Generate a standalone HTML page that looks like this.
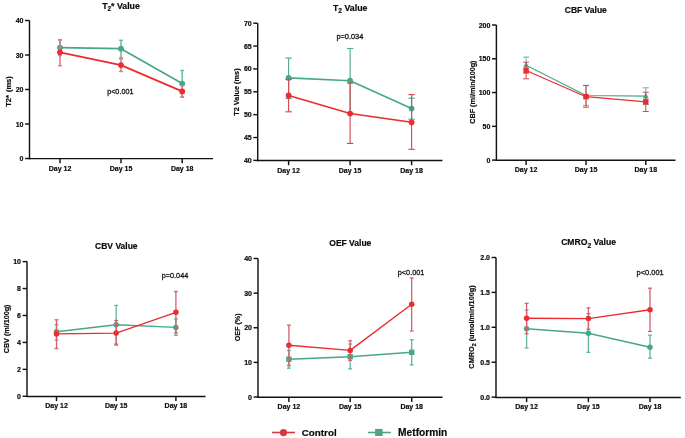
<!DOCTYPE html>
<html><head><meta charset="utf-8"><style>
html,body{margin:0;padding:0;background:#fff;}
body{width:685px;height:438px;overflow:hidden;}
svg{display:block;will-change:transform;}
text{font-family:'Liberation Sans', sans-serif;fill:#0a0a0a;stroke:#0a0a0a;stroke-width:0.18px;}
.pv{stroke-width:0.26px;}
</style></head><body>
<svg width="685" height="438" viewBox="0 0 685 438">
<rect width="685" height="438" fill="#fff"/>
<line x1="29.5" y1="20.5" x2="29.5" y2="159.32" stroke="#121212" stroke-width="1.45"/>
<line x1="28.77" y1="158.6" x2="213" y2="158.6" stroke="#121212" stroke-width="1.45"/>
<line x1="25.1" y1="158.5" x2="29.5" y2="158.5" stroke="#121212" stroke-width="1.45"/>
<text x="23.5" y="161.05" font-size="7.0" font-weight="bold" text-anchor="end">0</text>
<line x1="25.1" y1="124" x2="29.5" y2="124" stroke="#121212" stroke-width="1.45"/>
<text x="23.5" y="126.55" font-size="7.0" font-weight="bold" text-anchor="end">10</text>
<line x1="25.1" y1="89.5" x2="29.5" y2="89.5" stroke="#121212" stroke-width="1.45"/>
<text x="23.5" y="92.05" font-size="7.0" font-weight="bold" text-anchor="end">20</text>
<line x1="25.1" y1="55" x2="29.5" y2="55" stroke="#121212" stroke-width="1.45"/>
<text x="23.5" y="57.55" font-size="7.0" font-weight="bold" text-anchor="end">30</text>
<line x1="25.1" y1="20.5" x2="29.5" y2="20.5" stroke="#121212" stroke-width="1.45"/>
<text x="23.5" y="23.05" font-size="7.0" font-weight="bold" text-anchor="end">40</text>
<line x1="60" y1="158.6" x2="60" y2="163.3" stroke="#121212" stroke-width="1.45"/>
<text x="60" y="170.6" font-size="7.0" font-weight="bold" text-anchor="middle">Day 12</text>
<line x1="121" y1="158.6" x2="121" y2="163.3" stroke="#121212" stroke-width="1.45"/>
<text x="121" y="170.6" font-size="7.0" font-weight="bold" text-anchor="middle">Day 15</text>
<line x1="182.2" y1="158.6" x2="182.2" y2="163.3" stroke="#121212" stroke-width="1.45"/>
<text x="182.2" y="170.6" font-size="7.0" font-weight="bold" text-anchor="middle">Day 18</text>
<text x="121" y="8.5" font-size="8.75" font-weight="bold" text-anchor="middle">T<tspan font-size="6.4" dy="2.4">2</tspan><tspan dy="-2.4">* Value</tspan></text>
<text transform="translate(10.8,91.5) rotate(-90)" x="0" y="0" font-size="7.5" font-weight="bold" text-anchor="middle">T2*<tspan dx="3">(ms)</tspan></text>
<text class="pv" x="120.3" y="93.8" font-size="7.7" text-anchor="middle" textLength="26.3" lengthAdjust="spacingAndGlyphs">p&lt;0.001</text>
<line x1="60" y1="39.85" x2="60" y2="55.6" stroke="#6dbb9c" stroke-width="1.5"/>
<line x1="58.1" y1="39.85" x2="61.9" y2="39.85" stroke="#6dbb9c" stroke-width="1.5"/>
<line x1="58.1" y1="55.6" x2="61.9" y2="55.6" stroke="#6dbb9c" stroke-width="1.5"/>
<line x1="121" y1="40.3" x2="121" y2="57.6" stroke="#6dbb9c" stroke-width="1.5"/>
<line x1="119.1" y1="40.3" x2="122.9" y2="40.3" stroke="#6dbb9c" stroke-width="1.5"/>
<line x1="119.1" y1="57.6" x2="122.9" y2="57.6" stroke="#6dbb9c" stroke-width="1.5"/>
<line x1="182.2" y1="70.5" x2="182.2" y2="96.9" stroke="#6dbb9c" stroke-width="1.5"/>
<line x1="180.3" y1="70.5" x2="184.1" y2="70.5" stroke="#6dbb9c" stroke-width="1.5"/>
<line x1="180.3" y1="96.9" x2="184.1" y2="96.9" stroke="#6dbb9c" stroke-width="1.5"/>
<path d="M60,47.6 L121,48.7 L182.2,83.6" fill="none" stroke="#47a884" stroke-width="1.7" stroke-linejoin="round"/>
<circle cx="60" cy="47.6" r="2.9" fill="#47a884"/>
<circle cx="121" cy="48.7" r="2.9" fill="#47a884"/>
<circle cx="182.2" cy="83.6" r="2.9" fill="#47a884"/>
<line x1="60" y1="39.7" x2="60" y2="65.7" stroke="#dc7884" stroke-width="1.5"/>
<line x1="58.1" y1="39.7" x2="61.9" y2="39.7" stroke="#dc7884" stroke-width="1.5"/>
<line x1="58.1" y1="65.7" x2="61.9" y2="65.7" stroke="#dc7884" stroke-width="1.5"/>
<line x1="121" y1="58.8" x2="121" y2="71.5" stroke="#dc7884" stroke-width="1.5"/>
<line x1="119.1" y1="58.8" x2="122.9" y2="58.8" stroke="#dc7884" stroke-width="1.5"/>
<line x1="119.1" y1="71.5" x2="122.9" y2="71.5" stroke="#dc7884" stroke-width="1.5"/>
<line x1="182.2" y1="85.5" x2="182.2" y2="97.3" stroke="#dc7884" stroke-width="1.5"/>
<line x1="180.3" y1="85.5" x2="184.1" y2="85.5" stroke="#dc7884" stroke-width="1.5"/>
<line x1="180.3" y1="97.3" x2="184.1" y2="97.3" stroke="#dc7884" stroke-width="1.5"/>
<path d="M60,52.3 L121,65.1 L182.2,91.4" fill="none" stroke="#ec2c2f" stroke-width="1.7" stroke-linejoin="round"/>
<circle cx="60" cy="52.3" r="2.9" fill="#ec2c2f"/>
<circle cx="121" cy="65.1" r="2.9" fill="#ec2c2f"/>
<circle cx="182.2" cy="91.4" r="2.9" fill="#ec2c2f"/>
<line x1="257.7" y1="23.2" x2="257.7" y2="161.22" stroke="#121212" stroke-width="1.45"/>
<line x1="256.97" y1="160.5" x2="442.4" y2="160.5" stroke="#121212" stroke-width="1.45"/>
<line x1="253.3" y1="160.4" x2="257.7" y2="160.4" stroke="#121212" stroke-width="1.45"/>
<text x="251.7" y="162.95" font-size="7.0" font-weight="bold" text-anchor="end">40</text>
<line x1="253.3" y1="137.53" x2="257.7" y2="137.53" stroke="#121212" stroke-width="1.45"/>
<text x="251.7" y="140.09" font-size="7.0" font-weight="bold" text-anchor="end">45</text>
<line x1="253.3" y1="114.67" x2="257.7" y2="114.67" stroke="#121212" stroke-width="1.45"/>
<text x="251.7" y="117.22" font-size="7.0" font-weight="bold" text-anchor="end">50</text>
<line x1="253.3" y1="91.81" x2="257.7" y2="91.81" stroke="#121212" stroke-width="1.45"/>
<text x="251.7" y="94.36" font-size="7.0" font-weight="bold" text-anchor="end">55</text>
<line x1="253.3" y1="68.94" x2="257.7" y2="68.94" stroke="#121212" stroke-width="1.45"/>
<text x="251.7" y="71.49" font-size="7.0" font-weight="bold" text-anchor="end">60</text>
<line x1="253.3" y1="46.07" x2="257.7" y2="46.07" stroke="#121212" stroke-width="1.45"/>
<text x="251.7" y="48.62" font-size="7.0" font-weight="bold" text-anchor="end">65</text>
<line x1="253.3" y1="23.21" x2="257.7" y2="23.21" stroke="#121212" stroke-width="1.45"/>
<text x="251.7" y="25.76" font-size="7.0" font-weight="bold" text-anchor="end">70</text>
<line x1="288.6" y1="160.5" x2="288.6" y2="165.2" stroke="#121212" stroke-width="1.45"/>
<text x="288.6" y="172.5" font-size="7.0" font-weight="bold" text-anchor="middle">Day 12</text>
<line x1="350.1" y1="160.5" x2="350.1" y2="165.2" stroke="#121212" stroke-width="1.45"/>
<text x="350.1" y="172.5" font-size="7.0" font-weight="bold" text-anchor="middle">Day 15</text>
<line x1="411.6" y1="160.5" x2="411.6" y2="165.2" stroke="#121212" stroke-width="1.45"/>
<text x="411.6" y="172.5" font-size="7.0" font-weight="bold" text-anchor="middle">Day 18</text>
<text x="350.2" y="10.75" font-size="8.8" font-weight="bold" text-anchor="middle">T<tspan font-size="6.6" dy="2.7">2</tspan><tspan dy="-2.7"> Value</tspan></text>
<text transform="translate(239.3,92.1) rotate(-90)" x="0" y="0" font-size="7.35" font-weight="bold" text-anchor="middle">T2 Value (ms)</text>
<text class="pv" x="349.9" y="38.9" font-size="7.7" text-anchor="middle" textLength="26.9" lengthAdjust="spacingAndGlyphs">p=0.034</text>
<line x1="288.6" y1="58.1" x2="288.6" y2="98.5" stroke="#52ad8b" stroke-width="1.15"/>
<line x1="285.4" y1="58.1" x2="291.8" y2="58.1" stroke="#52ad8b" stroke-width="1.15"/>
<line x1="285.4" y1="98.5" x2="291.8" y2="98.5" stroke="#52ad8b" stroke-width="1.15"/>
<line x1="350.1" y1="48.5" x2="350.1" y2="113" stroke="#52ad8b" stroke-width="1.15"/>
<line x1="346.9" y1="48.5" x2="353.3" y2="48.5" stroke="#52ad8b" stroke-width="1.15"/>
<line x1="346.9" y1="113" x2="353.3" y2="113" stroke="#52ad8b" stroke-width="1.15"/>
<line x1="411.6" y1="98.2" x2="411.6" y2="119.2" stroke="#52ad8b" stroke-width="1.15"/>
<line x1="408.4" y1="98.2" x2="414.8" y2="98.2" stroke="#52ad8b" stroke-width="1.15"/>
<line x1="408.4" y1="119.2" x2="414.8" y2="119.2" stroke="#52ad8b" stroke-width="1.15"/>
<path d="M288.6,77.9 L350.1,80.7 L411.6,108.6" fill="none" stroke="#47a884" stroke-width="1.6" stroke-linejoin="round"/>
<circle cx="288.6" cy="77.9" r="2.85" fill="#47a884"/>
<circle cx="350.1" cy="80.7" r="2.85" fill="#47a884"/>
<circle cx="411.6" cy="108.6" r="2.85" fill="#47a884"/>
<line x1="288.6" y1="79.4" x2="288.6" y2="111.8" stroke="#d44a57" stroke-width="1.15"/>
<line x1="285.4" y1="79.4" x2="291.8" y2="79.4" stroke="#d44a57" stroke-width="1.15"/>
<line x1="285.4" y1="111.8" x2="291.8" y2="111.8" stroke="#d44a57" stroke-width="1.15"/>
<line x1="350.1" y1="83.1" x2="350.1" y2="143.4" stroke="#d44a57" stroke-width="1.15"/>
<line x1="346.9" y1="83.1" x2="353.3" y2="83.1" stroke="#d44a57" stroke-width="1.15"/>
<line x1="346.9" y1="143.4" x2="353.3" y2="143.4" stroke="#d44a57" stroke-width="1.15"/>
<line x1="411.6" y1="94.6" x2="411.6" y2="149.3" stroke="#d44a57" stroke-width="1.15"/>
<line x1="408.4" y1="94.6" x2="414.8" y2="94.6" stroke="#d44a57" stroke-width="1.15"/>
<line x1="408.4" y1="149.3" x2="414.8" y2="149.3" stroke="#d44a57" stroke-width="1.15"/>
<path d="M288.6,95.4 L350.1,113.5 L411.6,122.3" fill="none" stroke="#ec2c2f" stroke-width="1.6" stroke-linejoin="round"/>
<circle cx="288.6" cy="95.4" r="2.85" fill="#ec2c2f"/>
<circle cx="350.1" cy="113.5" r="2.85" fill="#ec2c2f"/>
<circle cx="411.6" cy="122.3" r="2.85" fill="#ec2c2f"/>
<line x1="496.4" y1="25" x2="496.4" y2="161.03" stroke="#121212" stroke-width="1.45"/>
<line x1="495.67" y1="160.3" x2="675.5" y2="160.3" stroke="#121212" stroke-width="1.45"/>
<line x1="492" y1="160.1" x2="496.4" y2="160.1" stroke="#121212" stroke-width="1.45"/>
<text x="490.4" y="162.65" font-size="7.0" font-weight="bold" text-anchor="end">0</text>
<line x1="492" y1="126.32" x2="496.4" y2="126.32" stroke="#121212" stroke-width="1.45"/>
<text x="490.4" y="128.88" font-size="7.0" font-weight="bold" text-anchor="end">50</text>
<line x1="492" y1="92.55" x2="496.4" y2="92.55" stroke="#121212" stroke-width="1.45"/>
<text x="490.4" y="95.1" font-size="7.0" font-weight="bold" text-anchor="end">100</text>
<line x1="492" y1="58.77" x2="496.4" y2="58.77" stroke="#121212" stroke-width="1.45"/>
<text x="490.4" y="61.32" font-size="7.0" font-weight="bold" text-anchor="end">150</text>
<line x1="492" y1="25" x2="496.4" y2="25" stroke="#121212" stroke-width="1.45"/>
<text x="490.4" y="27.55" font-size="7.0" font-weight="bold" text-anchor="end">200</text>
<line x1="526.1" y1="160.3" x2="526.1" y2="165" stroke="#121212" stroke-width="1.45"/>
<text x="526.1" y="172.3" font-size="7.0" font-weight="bold" text-anchor="middle">Day 12</text>
<line x1="586" y1="160.3" x2="586" y2="165" stroke="#121212" stroke-width="1.45"/>
<text x="586" y="172.3" font-size="7.0" font-weight="bold" text-anchor="middle">Day 15</text>
<line x1="645.8" y1="160.3" x2="645.8" y2="165" stroke="#121212" stroke-width="1.45"/>
<text x="645.8" y="172.3" font-size="7.0" font-weight="bold" text-anchor="middle">Day 18</text>
<text x="585.8" y="13.1" font-size="8.5" font-weight="bold" text-anchor="middle">CBF Value</text>
<text transform="translate(475.2,92.1) rotate(-90)" x="0" y="0" font-size="7.2" font-weight="bold" text-anchor="middle">CBF (ml/min/100g)</text>
<line x1="526.1" y1="57.1" x2="526.1" y2="73.2" stroke="#62b795" stroke-width="1.0"/>
<line x1="523.1" y1="57.1" x2="529.1" y2="57.1" stroke="#62b795" stroke-width="1.0"/>
<line x1="523.1" y1="73.2" x2="529.1" y2="73.2" stroke="#62b795" stroke-width="1.0"/>
<line x1="586" y1="85.6" x2="586" y2="105.4" stroke="#62b795" stroke-width="1.0"/>
<line x1="583" y1="85.6" x2="589" y2="85.6" stroke="#62b795" stroke-width="1.0"/>
<line x1="583" y1="105.4" x2="589" y2="105.4" stroke="#62b795" stroke-width="1.0"/>
<line x1="645.8" y1="87.8" x2="645.8" y2="104.6" stroke="#62b795" stroke-width="1.0"/>
<line x1="642.8" y1="87.8" x2="648.8" y2="87.8" stroke="#62b795" stroke-width="1.0"/>
<line x1="642.8" y1="104.6" x2="648.8" y2="104.6" stroke="#62b795" stroke-width="1.0"/>
<path d="M526.1,65.2 L586,95.5 L645.8,96.2" fill="none" stroke="#47a884" stroke-width="1.25" stroke-linejoin="round"/>
<path d="M526.1,61.78 L529.1,67.48 L523.1,67.48 Z" fill="#47a884"/>
<path d="M586,92.08 L589,97.78 L583,97.78 Z" fill="#47a884"/>
<path d="M645.8,92.78 L648.8,98.48 L642.8,98.48 Z" fill="#47a884"/>
<line x1="526.1" y1="62.2" x2="526.1" y2="78.8" stroke="#cc4a57" stroke-width="1.0"/>
<line x1="523.1" y1="62.2" x2="529.1" y2="62.2" stroke="#cc4a57" stroke-width="1.0"/>
<line x1="523.1" y1="78.8" x2="529.1" y2="78.8" stroke="#cc4a57" stroke-width="1.0"/>
<line x1="586" y1="85.4" x2="586" y2="107.2" stroke="#cc4a57" stroke-width="1.0"/>
<line x1="583" y1="85.4" x2="589" y2="85.4" stroke="#cc4a57" stroke-width="1.0"/>
<line x1="583" y1="107.2" x2="589" y2="107.2" stroke="#cc4a57" stroke-width="1.0"/>
<line x1="645.8" y1="92.2" x2="645.8" y2="111.5" stroke="#cc4a57" stroke-width="1.0"/>
<line x1="642.8" y1="92.2" x2="648.8" y2="92.2" stroke="#cc4a57" stroke-width="1.0"/>
<line x1="642.8" y1="111.5" x2="648.8" y2="111.5" stroke="#cc4a57" stroke-width="1.0"/>
<path d="M526.1,70.5 L586,96.7 L645.8,101.8" fill="none" stroke="#ec2c2f" stroke-width="1.25" stroke-linejoin="round"/>
<rect x="523.4" y="67.8" width="5.4" height="5.4" fill="#ec2c2f"/>
<rect x="583.3" y="94" width="5.4" height="5.4" fill="#ec2c2f"/>
<rect x="643.1" y="99.1" width="5.4" height="5.4" fill="#ec2c2f"/>
<line x1="27" y1="261.6" x2="27" y2="397.12" stroke="#121212" stroke-width="1.45"/>
<line x1="26.27" y1="396.4" x2="205.5" y2="396.4" stroke="#121212" stroke-width="1.45"/>
<line x1="22.6" y1="396.3" x2="27" y2="396.3" stroke="#121212" stroke-width="1.45"/>
<text x="21" y="398.85" font-size="7.0" font-weight="bold" text-anchor="end">0</text>
<line x1="22.6" y1="369.36" x2="27" y2="369.36" stroke="#121212" stroke-width="1.45"/>
<text x="21" y="371.91" font-size="7.0" font-weight="bold" text-anchor="end">2</text>
<line x1="22.6" y1="342.42" x2="27" y2="342.42" stroke="#121212" stroke-width="1.45"/>
<text x="21" y="344.97" font-size="7.0" font-weight="bold" text-anchor="end">4</text>
<line x1="22.6" y1="315.48" x2="27" y2="315.48" stroke="#121212" stroke-width="1.45"/>
<text x="21" y="318.03" font-size="7.0" font-weight="bold" text-anchor="end">6</text>
<line x1="22.6" y1="288.54" x2="27" y2="288.54" stroke="#121212" stroke-width="1.45"/>
<text x="21" y="291.09" font-size="7.0" font-weight="bold" text-anchor="end">8</text>
<line x1="22.6" y1="261.6" x2="27" y2="261.6" stroke="#121212" stroke-width="1.45"/>
<text x="21" y="264.15" font-size="7.0" font-weight="bold" text-anchor="end">10</text>
<line x1="56.5" y1="396.4" x2="56.5" y2="401.1" stroke="#121212" stroke-width="1.45"/>
<text x="56.5" y="408.4" font-size="7.0" font-weight="bold" text-anchor="middle">Day 12</text>
<line x1="116.2" y1="396.4" x2="116.2" y2="401.1" stroke="#121212" stroke-width="1.45"/>
<text x="116.2" y="408.4" font-size="7.0" font-weight="bold" text-anchor="middle">Day 15</text>
<line x1="175.9" y1="396.4" x2="175.9" y2="401.1" stroke="#121212" stroke-width="1.45"/>
<text x="175.9" y="408.4" font-size="7.0" font-weight="bold" text-anchor="middle">Day 18</text>
<text x="116.35" y="249.3" font-size="8.5" font-weight="bold" text-anchor="middle">CBV Value</text>
<text transform="translate(9,328.9) rotate(-90)" x="0" y="0" font-size="7.2" font-weight="bold" text-anchor="middle">CBV (ml/100g)</text>
<text class="pv" x="175" y="278.1" font-size="7.7" text-anchor="middle" textLength="26.6" lengthAdjust="spacingAndGlyphs">p=0.044</text>
<line x1="56.5" y1="324.6" x2="56.5" y2="340" stroke="#62b795" stroke-width="1.3"/>
<line x1="54.55" y1="324.6" x2="58.45" y2="324.6" stroke="#62b795" stroke-width="1.3"/>
<line x1="54.55" y1="340" x2="58.45" y2="340" stroke="#62b795" stroke-width="1.3"/>
<line x1="116.2" y1="305.4" x2="116.2" y2="344" stroke="#62b795" stroke-width="1.3"/>
<line x1="114.25" y1="305.4" x2="118.15" y2="305.4" stroke="#62b795" stroke-width="1.3"/>
<line x1="114.25" y1="344" x2="118.15" y2="344" stroke="#62b795" stroke-width="1.3"/>
<line x1="175.9" y1="318.9" x2="175.9" y2="335.3" stroke="#62b795" stroke-width="1.3"/>
<line x1="173.95" y1="318.9" x2="177.85" y2="318.9" stroke="#62b795" stroke-width="1.3"/>
<line x1="173.95" y1="335.3" x2="177.85" y2="335.3" stroke="#62b795" stroke-width="1.3"/>
<path d="M56.5,331.8 L116.2,324.7 L175.9,327.4" fill="none" stroke="#47a884" stroke-width="1.4" stroke-linejoin="round"/>
<circle cx="56.5" cy="331.8" r="2.75" fill="#47a884"/>
<circle cx="116.2" cy="324.7" r="2.75" fill="#47a884"/>
<circle cx="175.9" cy="327.4" r="2.75" fill="#47a884"/>
<line x1="56.5" y1="319.8" x2="56.5" y2="348.5" stroke="#d2606f" stroke-width="1.3"/>
<line x1="54.55" y1="319.8" x2="58.45" y2="319.8" stroke="#d2606f" stroke-width="1.3"/>
<line x1="54.55" y1="348.5" x2="58.45" y2="348.5" stroke="#d2606f" stroke-width="1.3"/>
<line x1="116.2" y1="320.5" x2="116.2" y2="345.1" stroke="#d2606f" stroke-width="1.3"/>
<line x1="114.25" y1="320.5" x2="118.15" y2="320.5" stroke="#d2606f" stroke-width="1.3"/>
<line x1="114.25" y1="345.1" x2="118.15" y2="345.1" stroke="#d2606f" stroke-width="1.3"/>
<line x1="175.9" y1="291.5" x2="175.9" y2="332.9" stroke="#d2606f" stroke-width="1.3"/>
<line x1="173.95" y1="291.5" x2="177.85" y2="291.5" stroke="#d2606f" stroke-width="1.3"/>
<line x1="173.95" y1="332.9" x2="177.85" y2="332.9" stroke="#d2606f" stroke-width="1.3"/>
<path d="M56.5,333.9 L116.2,333.1 L175.9,312.3" fill="none" stroke="#ec2c2f" stroke-width="1.4" stroke-linejoin="round"/>
<circle cx="56.5" cy="333.9" r="2.75" fill="#ec2c2f"/>
<circle cx="116.2" cy="333.1" r="2.75" fill="#ec2c2f"/>
<circle cx="175.9" cy="312.3" r="2.75" fill="#ec2c2f"/>
<line x1="258" y1="258.5" x2="258" y2="398.03" stroke="#121212" stroke-width="1.45"/>
<line x1="257.27" y1="397.3" x2="442.5" y2="397.3" stroke="#121212" stroke-width="1.45"/>
<line x1="253.6" y1="397" x2="258" y2="397" stroke="#121212" stroke-width="1.45"/>
<text x="252" y="399.55" font-size="7.0" font-weight="bold" text-anchor="end">0</text>
<line x1="253.6" y1="362.38" x2="258" y2="362.38" stroke="#121212" stroke-width="1.45"/>
<text x="252" y="364.93" font-size="7.0" font-weight="bold" text-anchor="end">10</text>
<line x1="253.6" y1="327.75" x2="258" y2="327.75" stroke="#121212" stroke-width="1.45"/>
<text x="252" y="330.3" font-size="7.0" font-weight="bold" text-anchor="end">20</text>
<line x1="253.6" y1="293.12" x2="258" y2="293.12" stroke="#121212" stroke-width="1.45"/>
<text x="252" y="295.68" font-size="7.0" font-weight="bold" text-anchor="end">30</text>
<line x1="253.6" y1="258.5" x2="258" y2="258.5" stroke="#121212" stroke-width="1.45"/>
<text x="252" y="261.05" font-size="7.0" font-weight="bold" text-anchor="end">40</text>
<line x1="288.9" y1="397.3" x2="288.9" y2="402" stroke="#121212" stroke-width="1.45"/>
<text x="288.9" y="409.3" font-size="7.0" font-weight="bold" text-anchor="middle">Day 12</text>
<line x1="350.2" y1="397.3" x2="350.2" y2="402" stroke="#121212" stroke-width="1.45"/>
<text x="350.2" y="409.3" font-size="7.0" font-weight="bold" text-anchor="middle">Day 15</text>
<line x1="411.7" y1="397.3" x2="411.7" y2="402" stroke="#121212" stroke-width="1.45"/>
<text x="411.7" y="409.3" font-size="7.0" font-weight="bold" text-anchor="middle">Day 18</text>
<text x="350.3" y="246.2" font-size="8.5" font-weight="bold" text-anchor="middle">OEF Value</text>
<text transform="translate(239.5,327.4) rotate(-90)" x="0" y="0" font-size="7.2" font-weight="bold" text-anchor="middle">OEF (%)</text>
<text class="pv" x="411.1" y="275" font-size="7.7" text-anchor="middle" textLength="26.7" lengthAdjust="spacingAndGlyphs">p&lt;0.001</text>
<line x1="288.9" y1="350.4" x2="288.9" y2="368.2" stroke="#62b795" stroke-width="1.3"/>
<line x1="286.95" y1="350.4" x2="290.85" y2="350.4" stroke="#62b795" stroke-width="1.3"/>
<line x1="286.95" y1="368.2" x2="290.85" y2="368.2" stroke="#62b795" stroke-width="1.3"/>
<line x1="350.2" y1="344" x2="350.2" y2="368.9" stroke="#62b795" stroke-width="1.3"/>
<line x1="348.25" y1="344" x2="352.15" y2="344" stroke="#62b795" stroke-width="1.3"/>
<line x1="348.25" y1="368.9" x2="352.15" y2="368.9" stroke="#62b795" stroke-width="1.3"/>
<line x1="411.7" y1="339.7" x2="411.7" y2="364.9" stroke="#62b795" stroke-width="1.3"/>
<line x1="409.75" y1="339.7" x2="413.65" y2="339.7" stroke="#62b795" stroke-width="1.3"/>
<line x1="409.75" y1="364.9" x2="413.65" y2="364.9" stroke="#62b795" stroke-width="1.3"/>
<path d="M288.9,359.2 L350.2,356.7 L411.7,352.3" fill="none" stroke="#47a884" stroke-width="1.4" stroke-linejoin="round"/>
<rect x="286.2" y="356.5" width="5.4" height="5.4" fill="#47a884"/>
<rect x="347.5" y="354" width="5.4" height="5.4" fill="#47a884"/>
<rect x="409" y="349.6" width="5.4" height="5.4" fill="#47a884"/>
<line x1="288.9" y1="325.1" x2="288.9" y2="365.5" stroke="#d2606f" stroke-width="1.3"/>
<line x1="286.95" y1="325.1" x2="290.85" y2="325.1" stroke="#d2606f" stroke-width="1.3"/>
<line x1="286.95" y1="365.5" x2="290.85" y2="365.5" stroke="#d2606f" stroke-width="1.3"/>
<line x1="350.2" y1="340.8" x2="350.2" y2="360.4" stroke="#d2606f" stroke-width="1.3"/>
<line x1="348.25" y1="340.8" x2="352.15" y2="340.8" stroke="#d2606f" stroke-width="1.3"/>
<line x1="348.25" y1="360.4" x2="352.15" y2="360.4" stroke="#d2606f" stroke-width="1.3"/>
<line x1="411.7" y1="278" x2="411.7" y2="331" stroke="#d2606f" stroke-width="1.3"/>
<line x1="409.75" y1="278" x2="413.65" y2="278" stroke="#d2606f" stroke-width="1.3"/>
<line x1="409.75" y1="331" x2="413.65" y2="331" stroke="#d2606f" stroke-width="1.3"/>
<path d="M288.9,345.2 L350.2,350.4 L411.7,304.3" fill="none" stroke="#ec2c2f" stroke-width="1.4" stroke-linejoin="round"/>
<circle cx="288.9" cy="345.2" r="2.75" fill="#ec2c2f"/>
<circle cx="350.2" cy="350.4" r="2.75" fill="#ec2c2f"/>
<circle cx="411.7" cy="304.3" r="2.75" fill="#ec2c2f"/>
<line x1="496" y1="257.5" x2="496" y2="398.12" stroke="#121212" stroke-width="1.45"/>
<line x1="495.27" y1="397.4" x2="680.8" y2="397.4" stroke="#121212" stroke-width="1.45"/>
<line x1="491.6" y1="397.1" x2="496" y2="397.1" stroke="#121212" stroke-width="1.45"/>
<text x="490" y="399.65" font-size="7.0" font-weight="bold" text-anchor="end">0.0</text>
<line x1="491.6" y1="362.2" x2="496" y2="362.2" stroke="#121212" stroke-width="1.45"/>
<text x="490" y="364.75" font-size="7.0" font-weight="bold" text-anchor="end">0.5</text>
<line x1="491.6" y1="327.3" x2="496" y2="327.3" stroke="#121212" stroke-width="1.45"/>
<text x="490" y="329.85" font-size="7.0" font-weight="bold" text-anchor="end">1.0</text>
<line x1="491.6" y1="292.4" x2="496" y2="292.4" stroke="#121212" stroke-width="1.45"/>
<text x="490" y="294.95" font-size="7.0" font-weight="bold" text-anchor="end">1.5</text>
<line x1="491.6" y1="257.5" x2="496" y2="257.5" stroke="#121212" stroke-width="1.45"/>
<text x="490" y="260.05" font-size="7.0" font-weight="bold" text-anchor="end">2.0</text>
<line x1="526.6" y1="397.4" x2="526.6" y2="402.1" stroke="#121212" stroke-width="1.45"/>
<text x="526.6" y="409.4" font-size="7.0" font-weight="bold" text-anchor="middle">Day 12</text>
<line x1="588.4" y1="397.4" x2="588.4" y2="402.1" stroke="#121212" stroke-width="1.45"/>
<text x="588.4" y="409.4" font-size="7.0" font-weight="bold" text-anchor="middle">Day 15</text>
<line x1="650" y1="397.4" x2="650" y2="402.1" stroke="#121212" stroke-width="1.45"/>
<text x="650" y="409.4" font-size="7.0" font-weight="bold" text-anchor="middle">Day 18</text>
<text x="588.6" y="245.1" font-size="8.6" font-weight="bold" text-anchor="middle">CMRO<tspan font-size="6.8" dy="2.8">2</tspan><tspan dy="-2.8"> Value</tspan></text>
<text transform="translate(474.4,327) rotate(-90)" x="0" y="0" font-size="7.3" font-weight="bold" text-anchor="middle">CMRO<tspan font-size="5.4" dy="1.8">2</tspan><tspan dy="-1.8"> (umol/min/100g)</tspan></text>
<text class="pv" x="650.1" y="275" font-size="7.7" text-anchor="middle" textLength="27.2" lengthAdjust="spacingAndGlyphs">p&lt;0.001</text>
<line x1="526.6" y1="310" x2="526.6" y2="347.9" stroke="#62b795" stroke-width="1.3"/>
<line x1="524.65" y1="310" x2="528.55" y2="310" stroke="#62b795" stroke-width="1.3"/>
<line x1="524.65" y1="347.9" x2="528.55" y2="347.9" stroke="#62b795" stroke-width="1.3"/>
<line x1="588.4" y1="313.7" x2="588.4" y2="352.4" stroke="#62b795" stroke-width="1.3"/>
<line x1="586.45" y1="313.7" x2="590.35" y2="313.7" stroke="#62b795" stroke-width="1.3"/>
<line x1="586.45" y1="352.4" x2="590.35" y2="352.4" stroke="#62b795" stroke-width="1.3"/>
<line x1="650" y1="335.2" x2="650" y2="358.2" stroke="#62b795" stroke-width="1.3"/>
<line x1="648.05" y1="335.2" x2="651.95" y2="335.2" stroke="#62b795" stroke-width="1.3"/>
<line x1="648.05" y1="358.2" x2="651.95" y2="358.2" stroke="#62b795" stroke-width="1.3"/>
<path d="M526.6,328.7 L588.4,333.2 L650,347.2" fill="none" stroke="#47a884" stroke-width="1.4" stroke-linejoin="round"/>
<circle cx="526.6" cy="328.7" r="2.75" fill="#47a884"/>
<circle cx="588.4" cy="333.2" r="2.75" fill="#47a884"/>
<circle cx="650" cy="347.2" r="2.75" fill="#47a884"/>
<line x1="526.6" y1="303.3" x2="526.6" y2="333.8" stroke="#d2606f" stroke-width="1.3"/>
<line x1="524.65" y1="303.3" x2="528.55" y2="303.3" stroke="#d2606f" stroke-width="1.3"/>
<line x1="524.65" y1="333.8" x2="528.55" y2="333.8" stroke="#d2606f" stroke-width="1.3"/>
<line x1="588.4" y1="307.9" x2="588.4" y2="329.2" stroke="#d2606f" stroke-width="1.3"/>
<line x1="586.45" y1="307.9" x2="590.35" y2="307.9" stroke="#d2606f" stroke-width="1.3"/>
<line x1="586.45" y1="329.2" x2="590.35" y2="329.2" stroke="#d2606f" stroke-width="1.3"/>
<line x1="650" y1="288.2" x2="650" y2="331.5" stroke="#d2606f" stroke-width="1.3"/>
<line x1="648.05" y1="288.2" x2="651.95" y2="288.2" stroke="#d2606f" stroke-width="1.3"/>
<line x1="648.05" y1="331.5" x2="651.95" y2="331.5" stroke="#d2606f" stroke-width="1.3"/>
<path d="M526.6,318.3 L588.4,318.6 L650,309.8" fill="none" stroke="#ec2c2f" stroke-width="1.4" stroke-linejoin="round"/>
<circle cx="526.6" cy="318.3" r="2.75" fill="#ec2c2f"/>
<circle cx="588.4" cy="318.6" r="2.75" fill="#ec2c2f"/>
<circle cx="650" cy="309.8" r="2.75" fill="#ec2c2f"/>
<line x1="272" y1="432.5" x2="295" y2="432.5" stroke="#d73846" stroke-width="1.6"/>
<circle cx="283.5" cy="432.6" r="3.6" fill="#d73846"/>
<text x="301.8" y="436.1" font-size="9.8" font-weight="bold">Control</text>
<line x1="368" y1="432.5" x2="391" y2="432.5" stroke="#4ea583" stroke-width="1.6"/>
<rect x="375.1" y="428.9" width="7.5" height="7.1" fill="#4ea583"/>
<text x="398.1" y="436.1" font-size="10.2" font-weight="bold">Metformin</text>
</svg>
</body></html>
